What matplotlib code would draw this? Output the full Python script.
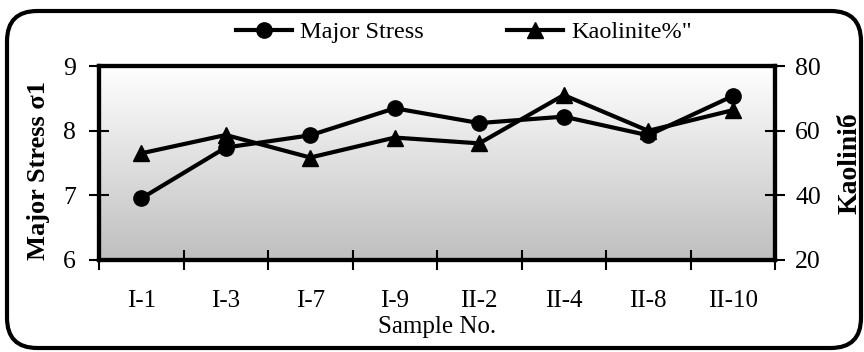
import numpy as np
import matplotlib.pyplot as plt
from matplotlib.colors import LinearSegmentedColormap
from matplotlib.patches import FancyBboxPatch

samples = ["I-1", "I-3", "I-7", "I-9", "II-2", "II-4", "II-8", "II-10"]
major_stress = [6.95, 7.74, 7.93, 8.35, 8.12, 8.22, 7.93, 8.54]
kaolinite = [53.0, 58.7, 51.7, 57.9, 56.1, 71.1, 60.0, 66.4]

plt.rcParams["font.family"] = ["Liberation Serif", "DejaVu Serif"]

fig = plt.figure(figsize=(8.64, 3.52), dpi=100)
ax = fig.add_axes([99 / 864, 1 - 259.6 / 352, 676 / 864, (259.6 - 66.4) / 352])
ax2 = ax.twinx()

# grey-to-white fill of the plot area
grad = np.linspace(0, 1, 256).reshape(-1, 1)
cmap = LinearSegmentedColormap.from_list("g", ["#bfbfbf", "#ffffff"])
ax.imshow(grad, extent=[0, 1, 0, 1], transform=ax.transAxes, aspect="auto",
          cmap=cmap, origin="lower", zorder=0)

x = np.arange(len(samples))
l1, = ax.plot(x, major_stress, color="black", lw=3, marker="o", ms=11, zorder=3,
              label="Major Stress")
l2, = ax2.plot(x, kaolinite, color="black", lw=3, marker="^", ms=12, zorder=3,
               label='Kaolinite%"')

ax.set_xlim(-0.5, len(samples) - 0.5)
ax.set_ylim(6, 9)
ax2.set_ylim(20, 80)
ax.set_yticks([6, 7, 8, 9])
ax2.set_yticks([20, 40, 60, 80])

ax.set_xticks(np.arange(-0.5, len(samples), 1))
ax.set_xticklabels([])
ax.set_xticks(x, minor=True)
ax.set_xticklabels(samples, minor=True)
ax.tick_params(axis="x", which="major", direction="inout", length=14, width=1.5)
ax.tick_params(axis="x", which="minor", length=0, pad=22, labelsize=18)
ax.tick_params(axis="y", direction="inout", length=15, width=1.5, labelsize=18.5, pad=9)
ax2.tick_params(axis="y", direction="inout", length=15, width=1.5, labelsize=18.5, pad=7)

for a in (ax, ax2):
    for s in a.spines.values():
        s.set_linewidth(3)

ax.set_xlabel("Sample No.", fontsize=18, labelpad=3)
ax.set_ylabel("Major Stress σ1", fontsize=19, fontweight="bold")
ax.yaxis.set_label_coords(-0.073, 0.46)
ax2.set_ylabel("Kaoliniб", fontsize=20, fontweight="bold", labelpad=12)

fig.legend(handles=[l1, l2], loc="center", bbox_to_anchor=(464 / 864, 1 - 32 / 352),
           ncol=2, frameon=False, fontsize=17.5, handlelength=2.3, handletextpad=0.35,
           columnspacing=3.4, borderpad=0, borderaxespad=0)

border = FancyBboxPatch((7 / 864, 4 / 352), 854 / 864, 337 / 352,
                        boxstyle="round,pad=0,rounding_size=0.035",
                        transform=fig.transFigure, fill=False, lw=3,
                        edgecolor="black", mutation_aspect=864 / 352)
fig.patches.append(border)

fig.savefig("out.png", dpi=100)
